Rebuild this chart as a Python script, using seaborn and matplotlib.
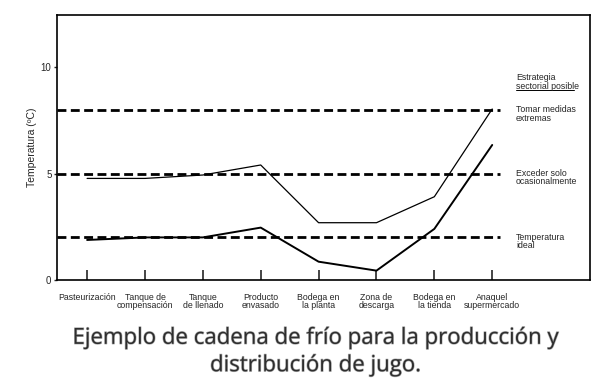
import pandas as pd
import numpy as np
import matplotlib
matplotlib.use('Agg')
import matplotlib.pyplot as plt
import matplotlib.patheffects as pe
import seaborn as sns

# Stages of the cold chain
stages = ['Pasteurización', 'Tanque de\ncompensación', 'Tanque\nde llenado',
          'Producto\nenvasado', 'Bodega en\nla planta', 'Zona de\ndescarga',
          'Bodega en\nla tienda', 'Anaquel\nsupermercado']

# Temperature (upper and lower limit of the chain)
upper_temp = [4.77, 4.77, 4.93, 5.4, 2.69, 2.69, 3.91, 8.03]
lower_temp = [1.88, 2.0, 2.0, 2.46, 0.86, 0.44, 2.4, 6.34]

# Reference levels and their strategy labels
ref_levels = [8, 5, 2]
ref_labels = ['Tomar medidas\nextremas', 'Exceder solo\nocasionalmente', 'Temperatura\nideal']

sns.set_style("white")
plt.rcParams['font.family'] = ['Liberation Sans', 'DejaVu Sans']

df = pd.DataFrame({
    'pos': list(range(len(stages))) * 2,
    'temp': upper_temp + lower_temp,
    'serie': ['alta'] * len(stages) + ['baja'] * len(stages),
})

fig = plt.figure(figsize=(6.13, 3.86), dpi=100)
ax = fig.add_axes([0.093, 0.2746, 0.8695, 0.6864])

sns.lineplot(data=df[df['serie'] == 'alta'], x='pos', y='temp', color='black', lw=0.9, ax=ax)
sns.lineplot(data=df[df['serie'] == 'baja'], x='pos', y='temp', color='black', lw=1.4, ax=ax)

# dashed reference lines
for lvl, lab in zip(ref_levels, ref_labels):
    ax.plot([-0.52, 7.14], [lvl, lvl], color='black', lw=2.0, dashes=(3.2, 1.6))
    ax.text(7.41, lvl + 0.22, lab, fontsize=6.3, va='top', ha='left', linespacing=0.95)

ax.text(7.41, 9.3, 'Estrategia', fontsize=6.3, va='bottom', ha='left')
t = ax.text(7.41, 9.3, 'sectorial posible', fontsize=6.3, va='top', ha='left')
fig.canvas.draw()
bb = t.get_window_extent().transformed(ax.transData.inverted())
ax.plot([bb.x0, bb.x1], [bb.y0 - 0.08, bb.y0 - 0.08], color='black', lw=0.7)

ax.set_xlim(-0.52, 8.69)
ax.set_ylim(0, 12.44)
ax.set_xticks(range(len(stages)))
ax.set_xticklabels(stages, fontsize=6.3, linespacing=0.95)
ax.set_yticks([0, 5, 10])
ax.set_yticklabels(['0', '5', '10'], fontsize=7)
ax.tick_params(axis='x', direction='in', length=7, width=1.2, pad=9)
ax.tick_params(axis='y', direction='out', length=2, width=1, pad=2, left=True)
ax.tick_params(axis='x', bottom=True)
ax.set_xlabel('')
ax.set_ylabel('Temperatura (ºC)', fontsize=7.5, labelpad=3)

for sp in ax.spines.values():
    sp.set_visible(True)
    sp.set_color('black')
    sp.set_linewidth(1.2)

fig.text(0.515, 0.088, 'Ejemplo de cadena de frío para la producción y\ndistribución de jugo.',
         ha='center', va='center', fontsize=16, color='#2e2e2e',
         family='Open Sans', linespacing=1.4,
         path_effects=[pe.withStroke(linewidth=0.9, foreground='#b0b0b0')])

fig.savefig('out.png', dpi=100, facecolor='white')
